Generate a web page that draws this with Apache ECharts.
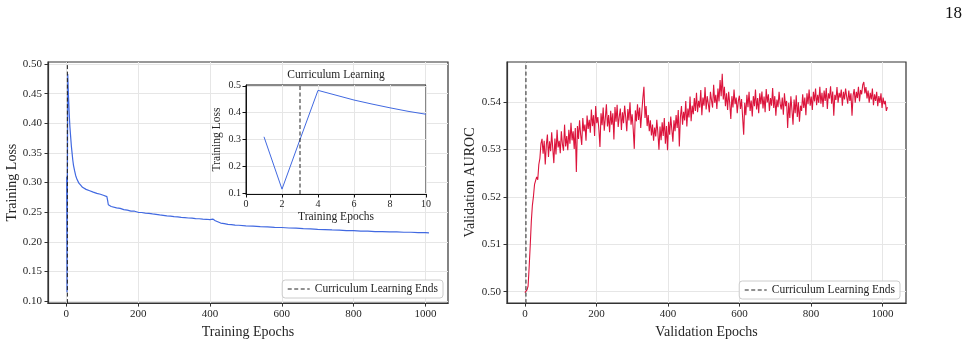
<!DOCTYPE html>
<html>
<head>
<meta charset="utf-8">
<title>Curriculum Learning</title>
<script src="https://cdn.jsdelivr.net/npm/echarts@6/dist/echarts.min.js"></script>
<style>
html, body { margin: 0; padding: 0; background: #fff; }
#chart { width: 970px; height: 344px; }
</style>
</head>
<body>
<div id="chart"></div>
<script>
// 训练损失 (左图)
var lossEpochs = [1, 2, 3, 4, 5, 6, 7, 8, 9, 10, 12, 14, 16, 18, 20, 23, 26, 30, 35, 40,
	45, 50, 55, 60, 65, 70, 75, 80, 85, 90, 95, 100, 105, 110, 113, 115, 117, 120, 125, 130,
	140, 150, 160, 170, 180, 190, 200, 210, 220, 230, 240, 250, 260, 270, 280, 290, 300, 310, 320, 330,
	340, 350, 360, 370, 380, 390, 400, 408, 415, 420, 430, 440, 450, 460, 470, 480, 500, 520, 540, 560,
	580, 600, 620, 640, 660, 680, 700, 720, 740, 760, 780, 800, 820, 840, 860, 880, 900, 920, 940, 960,
	980, 1000, 1010];
var lossValues = [0.310, 0.115, 0.300, 0.483, 0.465, 0.447, 0.432, 0.418, 0.405, 0.394, 0.378, 0.362, 0.350, 0.338, 0.329, 0.320, 0.312, 0.305, 0.299, 0.2955,
	0.292, 0.2902, 0.2885, 0.2878, 0.2862, 0.2858, 0.2838, 0.2836, 0.2818, 0.2817, 0.2802, 0.2797, 0.2782, 0.2777, 0.2762, 0.2700, 0.2625, 0.2612, 0.2596, 0.2591,
	0.2573, 0.2563, 0.2543, 0.2534, 0.2519, 0.2516, 0.2498, 0.2494, 0.2484, 0.2479, 0.2470, 0.2463, 0.2453, 0.2447, 0.2439, 0.2434, 0.2424, 0.2421, 0.2411, 0.2409,
	0.2402, 0.2399, 0.2391, 0.2389, 0.2382, 0.2380, 0.2374, 0.2383, 0.2356, 0.2338, 0.2316, 0.2307, 0.2294, 0.2290, 0.2281, 0.2279, 0.2268, 0.2264, 0.2255, 0.2252,
	0.2244, 0.2241, 0.2233, 0.2229, 0.2221, 0.2219, 0.2210, 0.2207, 0.2200, 0.2197, 0.2190, 0.2188, 0.2181, 0.2180, 0.2173, 0.2173, 0.2167, 0.2167, 0.2161, 0.2161,
	0.2155, 0.2155, 0.2152];

// 课程学习阶段 (插图)
var insetEpochs = [1, 2, 3, 4, 5, 6, 7, 8, 9, 10];
var insetLoss = [0.310, 0.115, 0.300, 0.483, 0.465, 0.447, 0.432, 0.418, 0.405, 0.394];

// 验证 AUROC (右图), 每 3 个 epoch 一个点, 每行 60 个 epoch
var aurocStep = 3;
var aurocValues = [
	0.4998, 0.4999, 0.5004, 0.5012, 0.5052, 0.5098, 0.5148, 0.5182, 0.5201, 0.5226, 0.5224, 0.5242, 0.5236, 0.5268, 0.5281, 0.5312, 0.5322, 0.5291, 0.5318, 0.5268,
	0.5309, 0.5331, 0.5284, 0.5317, 0.5296, 0.5336, 0.5302, 0.5271, 0.5323, 0.5289, 0.5341, 0.5304, 0.5318, 0.5292, 0.5338, 0.5311, 0.5297, 0.5352, 0.5306, 0.5328,
	0.5298, 0.5341, 0.5312, 0.5356, 0.5319, 0.5338, 0.5301, 0.5345, 0.5252, 0.5349, 0.5322, 0.5361, 0.5331, 0.5309, 0.5366, 0.5338, 0.5352, 0.5318, 0.5371, 0.5343,
	0.5362, 0.5335, 0.5384, 0.5349, 0.5372, 0.5328, 0.5391, 0.5355, 0.5368, 0.5342, 0.5305, 0.5376, 0.5351, 0.5388, 0.5339, 0.5366, 0.5395, 0.5348, 0.5372, 0.5336,
	0.5381, 0.5352, 0.5376, 0.5321, 0.5389, 0.5358, 0.5394, 0.5347, 0.5369, 0.5386, 0.5341, 0.5378, 0.5355, 0.5392, 0.5368, 0.5338, 0.5385, 0.5361, 0.5399, 0.5352,
	0.5374, 0.5343, 0.5301, 0.5382, 0.5359, 0.5395, 0.5362, 0.5388, 0.5345, 0.5378, 0.5408, 0.5432, 0.5366, 0.5391, 0.5349, 0.5372, 0.5338, 0.5361, 0.5329, 0.5352,
	0.5318, 0.5346, 0.5327, 0.5362, 0.5335, 0.5299, 0.5348, 0.5319, 0.5357, 0.5328, 0.5366, 0.5312, 0.5349, 0.5298, 0.5358, 0.5331, 0.5369, 0.5342, 0.5316, 0.5361,
	0.5338, 0.5372, 0.5345, 0.5383, 0.5306, 0.5368, 0.5391, 0.5352, 0.5379, 0.5361, 0.5402, 0.5348, 0.5386, 0.5367, 0.5411, 0.5359, 0.5392, 0.5374, 0.5408, 0.5381,
	0.5419, 0.5378, 0.5402, 0.5388, 0.5425, 0.5372, 0.5409, 0.5392, 0.5431, 0.5384, 0.5412, 0.5396, 0.5378, 0.5421, 0.5403, 0.5388, 0.5436, 0.5398, 0.5415, 0.5385,
	0.5428, 0.5401, 0.5446, 0.5412, 0.5459, 0.5405, 0.5432, 0.5391, 0.5418, 0.5383, 0.5421, 0.5397, 0.5364, 0.5412, 0.5388, 0.5426, 0.5395, 0.5409, 0.5376, 0.5402,
	0.5413, 0.5385, 0.5406, 0.5368, 0.5331, 0.5398, 0.5372, 0.5415, 0.5389, 0.5421, 0.5381, 0.5403, 0.5369, 0.5412, 0.5391, 0.5426, 0.5384, 0.5408, 0.5376, 0.5418,
	0.5395, 0.5422, 0.5386, 0.5411, 0.5378, 0.5427, 0.5399, 0.5416, 0.5381, 0.5408, 0.5392, 0.5429, 0.5387, 0.5412, 0.5371, 0.5405, 0.5389, 0.5421, 0.5396, 0.5384,
	0.5409, 0.5373, 0.5418, 0.5391, 0.5402, 0.5345, 0.5398, 0.5366, 0.5412, 0.5383, 0.5352, 0.5405, 0.5376, 0.5414, 0.5368, 0.5399, 0.5358, 0.5392, 0.5381, 0.5416,
	0.5387, 0.5409, 0.5372, 0.5418, 0.5395, 0.5426, 0.5392, 0.5411, 0.5383, 0.5421, 0.5401, 0.5428, 0.5393, 0.5415, 0.5398, 0.5432, 0.5396, 0.5419, 0.5389, 0.5424,
	0.5402, 0.5429, 0.5385, 0.5418, 0.5407, 0.5433, 0.5396, 0.5422, 0.5371, 0.5415, 0.5404, 0.5431, 0.5398, 0.5419, 0.5409, 0.5426, 0.5392, 0.5421, 0.5405, 0.5428,
	0.5411, 0.5396, 0.5424, 0.5402, 0.5418, 0.5371, 0.5413, 0.5427, 0.5398, 0.5421, 0.5408, 0.5432, 0.5401, 0.5425, 0.5416, 0.5436, 0.5442, 0.5418, 0.5431, 0.5407,
	0.5424, 0.5398, 0.5419, 0.5405, 0.5428, 0.5393, 0.5416, 0.5402, 0.5421, 0.5391, 0.5412, 0.5398, 0.5418, 0.5387, 0.5409, 0.5395, 0.5402, 0.5381, 0.5389];

// 课程学习结束的 epoch
var curriculumEnd = 3;

// 刻度
var epochTicks = [0, 200, 400, 600, 800, 1000];
var lossTicks = [0.10, 0.15, 0.20, 0.25, 0.30, 0.35, 0.40, 0.45, 0.50];
var insetEpochTicks = [0, 2, 4, 6, 8, 10];
var insetLossTicks = [0.1, 0.2, 0.3, 0.4, 0.5];
var aurocTicks = [0.50, 0.51, 0.52, 0.53, 0.54];

var CurriculumChart = function() {

	var SERIF = '"Liberation Serif", "DejaVu Serif", serif';
	var INK = '#262626';
	var GRID_LINE = '#e6e6e6';
	var LEGEND_NAME = 'Curriculum Learning Ends';

	// 轴范围
	var lossRange = [0.0965, 0.5035];
	var insetRange = [0.097, 0.503];
	var aurocRange = [0.4976, 0.5484];

	function pairs(xs, ys) {
		var out = [];
		for (var i = 0; i < ys.length; i++) {
			out.push([xs[i], ys[i]]);
		}
		return out;
	}

	function valueAxis(opt) {
		var fmt = opt.fmt;
		return {
			type : 'value',
			gridIndex : opt.grid,
			min : opt.min,
			max : opt.max,
			z : opt.z || 0,
			name : opt.name,
			nameLocation : 'middle',
			nameGap : opt.nameGap,
			nameTextStyle : { fontFamily : SERIF, fontSize : opt.nameSize, color : INK },
			axisLine : { show : true, onZero : false, lineStyle : { color : opt.lineColor || '#333', width : opt.lineWidth || 1.2 } },
			axisTick : { show : true, length : 3.5, customValues : opt.ticks, lineStyle : { color : opt.lineColor || '#333' } },
			axisLabel : {
				customValues : opt.ticks,
				margin : opt.margin || 6,
				fontFamily : SERIF,
				fontSize : opt.labelSize,
				color : INK,
				formatter : function(v) { return v.toFixed(fmt); }
			},
			splitLine : { show : true, lineStyle : { color : GRID_LINE, width : 1 } }
		};
	}

	function dashedSeries(xi, yi, range, z) {
		return {
			name : LEGEND_NAME,
			type : 'line',
			xAxisIndex : xi,
			yAxisIndex : yi,
			data : [[curriculumEnd, range[0]], [curriculumEnd, range[1]]],
			showSymbol : false,
			symbol : 'none',
			z : z,
			lineStyle : { color : '#222', width : 1, type : [4, 2.5] },
			itemStyle : { color : '#222' }
		};
	}

	function legendBox(right, bottom) {
		return {
			data : [LEGEND_NAME],
			right : right,
			bottom : bottom,
			orient : 'horizontal',
			itemWidth : 22,
			itemHeight : 10,
			itemGap : 5,
			padding : [3, 5, 3, 5],
			backgroundColor : 'rgba(255,255,255,0.85)',
			borderColor : '#cccccc',
			borderWidth : 1,
			borderRadius : 3,
			selectedMode : false,
			z : 10,
			// 图例只显示虚线, 隐藏圆点
			itemStyle : { opacity : 0 },
			lineStyle : { color : '#222', width : 1, type : [4, 2.5] },
			textStyle : { fontFamily : SERIF, fontSize : 11.5, color : INK }
		};
	}

	return {

		/**
		 * 绘制图表
		 */
		render : function() {
			var chart = echarts.init(document.getElementById('chart'), null, { renderer : 'canvas' });

			var options = {
				animation : false,
				backgroundColor : '#fff',
				grid : [
					{ left : 48, top : 62, width : 400, height : 242, show : true, borderColor : '#333', borderWidth : 1.2, z : 0 },
					{ left : 246, top : 85, width : 180, height : 109, show : true, backgroundColor : '#fff', borderColor : '#111', borderWidth : 1, z : 1 },
					{ left : 507, top : 62, width : 399, height : 242, show : true, borderColor : '#333', borderWidth : 1.2, z : 0 }
				],
				xAxis : [
					valueAxis({ grid : 0, min : -51, max : 1063, ticks : epochTicks, fmt : 0, name : 'Training Epochs', nameGap : 18, nameSize : 14, labelSize : 11 }),
					valueAxis({ grid : 1, min : 0, max : 10, ticks : insetEpochTicks, fmt : 0, name : 'Training Epochs', nameGap : 17, nameSize : 11.5, labelSize : 10, z : 2, lineColor : '#111', lineWidth : 1, margin : 5 }),
					valueAxis({ grid : 2, min : -50, max : 1066, ticks : epochTicks, fmt : 0, name : 'Validation Epochs', nameGap : 18, nameSize : 14, labelSize : 11 })
				],
				yAxis : [
					valueAxis({ grid : 0, min : lossRange[0], max : lossRange[1], ticks : lossTicks, fmt : 2, name : 'Training Loss', nameGap : 28, nameSize : 14, labelSize : 11 }),
					valueAxis({ grid : 1, min : insetRange[0], max : insetRange[1], ticks : insetLossTicks, fmt : 1, name : 'Training Loss', nameGap : 23, nameSize : 11.5, labelSize : 10, z : 2, lineColor : '#111', lineWidth : 1, margin : 5 }),
					valueAxis({ grid : 2, min : aurocRange[0], max : aurocRange[1], ticks : aurocTicks, fmt : 2, name : 'Validation AUROC', nameGap : 30, nameSize : 14, labelSize : 11 })
				],
				legend : [ legendBox(527, 46), legendBox(70, 45) ],
				graphic : [
					{ type : 'text', x : 336, y : 69, z : 5, style : { text : 'Curriculum Learning', align : 'center', textAlign : 'center', fontFamily : SERIF, fontSize : 11.5, fill : INK } },
					{ type : 'text', right : 8, top : 5, style : { text : '18', fontFamily : SERIF, fontSize : 17, fill : '#111' } }
				],
				series : [
					{
						name : 'Training Loss',
						type : 'line',
						xAxisIndex : 0,
						yAxisIndex : 0,
						data : pairs(lossEpochs, lossValues),
						showSymbol : false,
						symbol : 'none',
						z : 2,
						lineStyle : { color : '#4169e1', width : 1.2 }
					},
					dashedSeries(0, 0, lossRange, 3),
					{
						name : 'Inset Loss',
						type : 'line',
						xAxisIndex : 1,
						yAxisIndex : 1,
						data : pairs(insetEpochs, insetLoss),
						showSymbol : false,
						symbol : 'none',
						z : 4,
						lineStyle : { color : '#4169e1', width : 1 }
					},
					dashedSeries(1, 1, insetRange, 5),
					{
						name : 'Validation AUROC',
						type : 'line',
						xAxisIndex : 2,
						yAxisIndex : 2,
						data : aurocValues.map(function(v, i) { return [i * aurocStep, v]; }),
						showSymbol : false,
						symbol : 'none',
						z : 2,
						lineStyle : { color : '#dc143c', width : 1.1 }
					},
					dashedSeries(2, 2, aurocRange, 3)
				]
			};
			chart.setOption(options);
		}
	};
}();

CurriculumChart.render();
</script>
</body>
</html>
